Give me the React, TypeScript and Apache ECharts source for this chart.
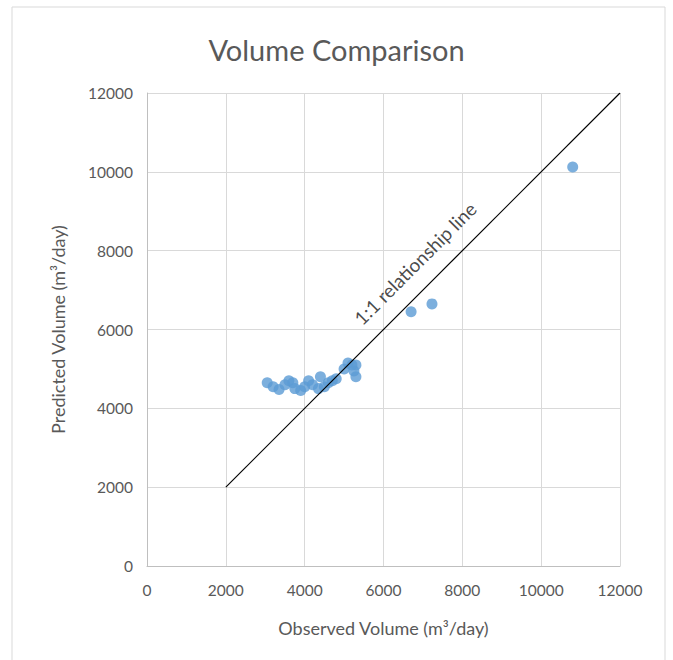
import React, { useEffect, useRef } from "react";
import * as echarts from "echarts";

const observed = [3050, 3200, 3350, 3500, 3600, 3700, 3750, 3900, 4000, 4100, 4200, 4350, 4400, 4500, 4600, 4700, 4800, 5000, 5100, 5200, 5250, 5300, 5300, 6700, 7230, 10800];
const predicted = [4650, 4550, 4480, 4600, 4700, 4650, 4500, 4450, 4550, 4700, 4600, 4500, 4800, 4550, 4650, 4700, 4750, 5000, 5150, 5100, 4950, 4800, 5100, 6450, 6650, 10120];
const oneToOne = [[2000, 2000], [12000, 12000]];
const lineLabelPos = [[6800, 7680]];
const lineLabelText = "1:1 relationship line";
const titleText = "Volume Comparison";
const xName = "Observed Volume (m³/day)";
const yName = "Predicted Volume (m³/day)";

const FONT = "Lato, 'Open Sans', sans-serif";
const GRAY = "#595959";

export default function App() {
  const ref = useRef<HTMLDivElement>(null);
  useEffect(() => {
    if (!ref.current) return;
    const chart = echarts.init(ref.current, undefined, { renderer: "svg" });
    chart.setOption({
      animation: false,
      backgroundColor: "#ffffff",
      title: {
        text: titleText,
        left: "center",
        top: 30,
        textStyle: { fontFamily: FONT, fontSize: 29, fontWeight: "normal", color: GRAY },
      },
      graphic: [
        {
          type: "rect",
          shape: { x: 12, y: 7, width: 653, height: 670 },
          style: { fill: "none", stroke: "#d9d9d9", lineWidth: 1 },
          silent: true,
        },
      ],
      grid: { left: 147, right: 53, top: 93, bottom: 94 },
      xAxis: {
        type: "value",
        min: 0,
        max: 12000,
        interval: 2000,
        name: xName,
        nameLocation: "middle",
        nameGap: 53,
        nameTextStyle: { fontFamily: FONT, fontSize: 18, color: GRAY },
        axisLine: { show: true, lineStyle: { color: "#bfbfbf" } },
        axisTick: { show: false },
        axisLabel: { fontFamily: FONT, fontSize: 15.5, color: GRAY, margin: 16, formatter: (v: number) => String(v) },
        splitLine: { show: true, lineStyle: { color: "#d9d9d9" } },
      },
      yAxis: {
        type: "value",
        min: 0,
        max: 12000,
        interval: 2000,
        name: yName,
        nameLocation: "middle",
        nameGap: 80,
        nameTextStyle: { fontFamily: FONT, fontSize: 18, color: GRAY },
        axisLine: { show: true, lineStyle: { color: "#bfbfbf" } },
        axisTick: { show: false },
        axisLabel: { fontFamily: FONT, fontSize: 15.5, color: GRAY, margin: 14, formatter: (v: number) => String(v) },
        splitLine: { show: true, lineStyle: { color: "#d9d9d9" } },
      },
      series: [
        {
          type: "line",
          data: oneToOne,
          showSymbol: false,
          symbol: "none",
          lineStyle: { color: "#000000", width: 1.2 },
          z: 3,
          silent: true,
        },
        {
          type: "scatter",
          data: observed.map((x, i) => [x, predicted[i]]),
          symbolSize: 11,
          itemStyle: { color: "#5b9bd5" },
          z: 2,
        },
        {
          type: "scatter",
          data: lineLabelPos,
          symbolSize: 0,
          itemStyle: { color: "transparent" },
          label: {
            show: true,
            position: "inside",
            formatter: lineLabelText,
            rotate: 45,
            fontFamily: FONT,
            fontSize: 19,
            color: "#1a1a1a",
          },
          silent: true,
          z: 4,
        },
      ],
    });
    return () => chart.dispose();
  }, []);
  return <div ref={ref} style={{ width: 673, height: 660, position: "absolute", left: 0, top: 0 }} />;
}
